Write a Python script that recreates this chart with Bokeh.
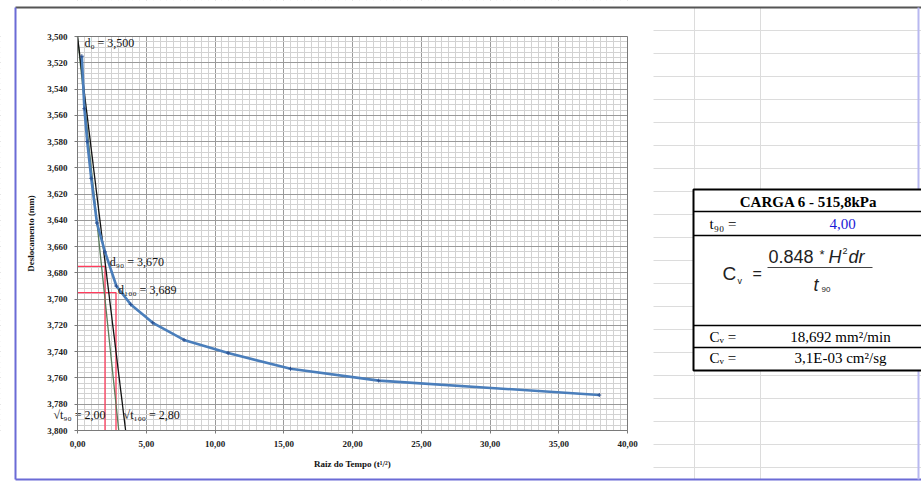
from bokeh.plotting import figure
from bokeh.models import Range1d, FixedTicker, LinearAxis, Grid
from bokeh.embed import file_html
from bokeh.resources import INLINE
from bokeh.core.properties import value

# ---------------- data ----------------
sqrt_t = [0.316, 0.5, 0.707, 1.0, 1.414, 2.0, 2.828, 3.873, 5.477, 7.746, 10.954, 15.492, 21.909, 37.947]
disp = [3.515, 3.555, 3.580, 3.608, 3.642, 3.664, 3.690, 3.704, 3.718, 3.731, 3.741, 3.753, 3.762, 3.773]

x_ticks = [0, 5, 10, 15, 20, 25, 30, 35, 40]
x_tick_labels = ["0,00", "5,00", "10,00", "15,00", "20,00", "25,00", "30,00", "35,00", "40,00"]
y_ticks = [3.50, 3.52, 3.54, 3.56, 3.58, 3.60, 3.62, 3.64, 3.66, 3.68, 3.70, 3.72, 3.74, 3.76, 3.78, 3.80]
y_tick_labels = ["3,500", "3,520", "3,540", "3,560", "3,580", "3,600", "3,620", "3,640", "3,660",
                 "3,680", "3,700", "3,720", "3,740", "3,760", "3,780", "3,800"]
x_minor = [i * 0.5 for i in range(81)]
y_minor = [round(3.5 + i * 0.004, 3) for i in range(76)]
x_min, x_max = 0, 40
y_min, y_max = 3.5, 3.8

d0 = 3.500
d90 = 3.670
d100 = 3.689
rt90 = 2.00
rt100 = 2.80
# Taylor construction lines (from d0 to bottom of chart)
line_a_x = [0.0, 3.0]
line_b_x = [0.0, 3.5]
red_y90 = 3.675    # as drawn
red_y100 = 3.695   # as drawn

title = "CARGA 6 - 515,8kPa"
t90_val = "4,00"
cv1 = "18,692 mm²/min"
cv2 = "3,1E-03 cm²/sg"

SERIF = value("Liberation Serif")
SANS = value("Liberation Sans")

# ---------------- layout constants (page pixels) ----------------
W, H = 921, 483
FL, FR, FT, FB = 77, 627, 36, 430   # plot area edges on the page
sx = (FR - FL) / (x_max - x_min)
sy = (FB - FT) / (y_max - y_min)
xr = Range1d(x_min - FL / sx, x_max + (W - FR) / sx)
yr = Range1d(y_max + (H - FB) / sy, y_min - FT / sy)

p = figure(width=W, height=H, output_backend="svg", toolbar_location=None,
           x_range=xr, y_range=yr, min_border=0,
           x_axis_location=None, y_axis_location=None, outline_line_color=None)
p.extra_x_ranges = {"px": Range1d(0, W)}
p.extra_y_ranges = {"px": Range1d(H, 0)}
p.background_fill_color = "white"
p.border_fill_color = "white"
p.renderers = [r for r in p.renderers]
for g in list(p.center):
    p.center.remove(g)

xt = FixedTicker(ticks=x_ticks, minor_ticks=x_minor)
yt = FixedTicker(ticks=y_ticks, minor_ticks=y_minor)

xaxis = LinearAxis(ticker=xt, fixed_location=y_max, bounds=(x_min, x_max))
yaxis = LinearAxis(ticker=yt, fixed_location=x_min, bounds=(y_min, y_max))
xaxis.major_label_overrides = {float(k): v for k, v in zip(x_ticks, x_tick_labels)}
yaxis.major_label_overrides = {float(k): v for k, v in zip(y_ticks, y_tick_labels)}
for ax in (xaxis, yaxis):
    ax.axis_line_color = "#7a7a7a"
    ax.major_tick_line_color = "#7a7a7a"
    ax.major_tick_out = 3
    ax.major_tick_in = 0
    ax.minor_tick_line_color = None
    ax.major_label_text_font = "Liberation Serif"
    ax.major_label_text_font_style = "bold"
    ax.major_label_text_font_size = "9px"
    ax.major_label_text_color = "#222222"
    ax.axis_label_text_font = "Liberation Serif"
    ax.axis_label_text_font_style = "bold"
    ax.axis_label_text_font_size = "9px"
    ax.axis_label_text_color = "#111111"
yaxis.major_label_standoff = 6
xaxis.major_label_standoff = 6
yaxis.axis_label = "Deslocamento (mm)"
xaxis.axis_label = "Raiz do Tempo (t¹/²)"
yaxis.axis_label_standoff = 8
xaxis.axis_label_standoff = 9
p.add_layout(xaxis, "below")
p.add_layout(yaxis, "left")

gx = Grid(dimension=0, ticker=xt, grid_line_color="#9a9a9a", minor_grid_line_color="#d2d2d2")
gy = Grid(dimension=1, ticker=yt, grid_line_color="#9a9a9a", minor_grid_line_color="#d2d2d2")
p.add_layout(gx, "center")
p.add_layout(gy, "center")

# white covers so the grid stays inside the plot area
p.quad(left=[0, FR, 0, 0], right=[FL, W, W, W], top=[0, 0, 0, FB], bottom=[H, H, FT, H],
       fill_color="white", line_color=None, x_range_name="px", y_range_name="px")
# plot area border
p.quad(left=[x_min], right=[x_max], top=[y_min], bottom=[y_max], fill_color=None,
       line_color="#7a7a7a", line_width=1)

# ---------------- spreadsheet background on the right ----------------
rows_y = [30 + 23 * i for i in range(20) if 30 + 23 * i < 478]
P = dict(x_range_name="px", y_range_name="px")
p.segment(x0=[653] * len(rows_y), y0=rows_y, x1=[W] * len(rows_y), y1=rows_y,
          line_color="#dcdcdc", line_width=1, **P)
p.segment(x0=[694, 760], y0=[7, 7], x1=[694, 760], y1=[479, 479], line_color="#dcdcdc", line_width=1, **P)
# page borders
p.segment(x0=[15], y0=[7], x1=[W], y1=[7], line_color="#555555", line_width=2, **P)
p.segment(x0=[15], y0=[479], x1=[W], y1=[479], line_color="#6b6bd6", line_width=2, **P)
p.segment(x0=[15], y0=[7], x1=[15], y1=[479], line_color="#6b6bd6", line_width=2, **P)
p.segment(x0=[918], y0=[7], x1=[918], y1=[479], line_color="#b8b8f0", line_width=2, **P)

# ---------------- table ----------------
p.quad(left=[693], right=[W + 2], top=[189], bottom=[370], fill_color="white",
       line_color="black", line_width=2, **P)
p.segment(x0=[693] * 4, y0=[211, 235, 325, 347], x1=[W] * 4, y1=[211, 235, 325, 347],
          line_color="black", line_width=1.6, **P)
p.text([808], [201], text=[title], text_font=SERIF, text_font_style="bold", text_font_size="15px",
       text_align="center", text_baseline="middle", text_color="black", **P)
p.text([709, 709, 709], [223, 336, 357], text=["t₉₀ =", "Cᵥ =", "Cᵥ ="], text_font=SERIF,
       text_font_size="15px", text_align="left", text_baseline="middle", text_color="black", **P)
p.text([842], [223], text=[t90_val], text_font=SERIF, text_font_size="15px",
       text_align="center", text_baseline="middle", text_color="#1a1ad6", **P)
p.text([840, 840], [336, 357], text=[cv1, cv2], text_font=SERIF, text_font_size="15px",
       text_align="center", text_baseline="middle", text_color="black", **P)

FC = "#222222"
p.text([722], [273], text=["C"], text_font=SANS, text_font_size="19px",
       text_align="left", text_baseline="middle", text_color=FC, **P)
p.text([737], [280], text=["v"], text_font=SANS, text_font_size="9px",
       text_align="left", text_baseline="middle", text_color=FC, **P)
p.text([752], [273], text=["="], text_font=SANS, text_font_size="16px",
       text_align="left", text_baseline="middle", text_color=FC, **P)
p.text([768], [256], text=["0.848"], text_font=SANS, text_font_size="18px",
       text_align="left", text_baseline="middle", text_color=FC, **P)
p.text([819], [254], text=["*"], text_font=SANS, text_font_size="13px",
       text_align="left", text_baseline="middle", text_color=FC, **P)
p.text([828], [256], text=["H"], text_font=SANS, text_font_style="italic", text_font_size="18px",
       text_align="left", text_baseline="middle", text_color=FC, **P)
p.text([842], [250], text=["2"], text_font=SANS, text_font_size="9px",
       text_align="left", text_baseline="middle", text_color=FC, **P)
p.text([848], [256], text=["dr"], text_font=SANS, text_font_style="italic", text_font_size="18px",
       text_align="left", text_baseline="middle", text_color=FC, **P)
p.segment(x0=[767], y0=[267], x1=[872], y1=[267], line_color="#444444", line_width=1, **P)
p.text([813], [284], text=["t"], text_font=SANS, text_font_style="italic", text_font_size="18px",
       text_align="left", text_baseline="middle", text_color=FC, **P)
p.text([821], [289], text=["90"], text_font=SANS, text_font_size="8px",
       text_align="left", text_baseline="middle", text_color=FC, **P)

# ---------------- chart marks ----------------
p.line([0, rt90, rt90], [red_y90, red_y90, y_max], line_color="#ff3b5c", line_width=1.3)
p.line([0, rt100, rt100], [red_y100, red_y100, y_max], line_color="#ff3b5c", line_width=1.3)
p.line(line_a_x, [d0, y_max], line_color="#5a7a5a", line_width=1.3)
p.line(line_b_x, [d0, y_max], line_color="#111111", line_width=1.3)
p.line(sqrt_t, disp, line_color="#4a7ebb", line_width=2.6)
p.scatter(sqrt_t, disp, marker="cross", size=4, line_color="#2a4f8f", line_width=1)

ann_x = [0.5, 2.35, 2.95, 3.35, -1.75]
ann_y = [3.505, 3.672, 3.693, 3.788, 3.788]
ann_t = ["d₀ = 3,500", "d₉₀ = 3,670", "d₁₀₀ = 3,689", "√t₁₀₀ = 2,80", "√t₉₀ = 2,00"]
p.text(ann_x, ann_y, text=ann_t, text_font=SERIF, text_font_size="12px",
       text_baseline="middle", text_align="left", text_color="#111111")

open("out.html", "w").write(file_html(p, INLINE))
